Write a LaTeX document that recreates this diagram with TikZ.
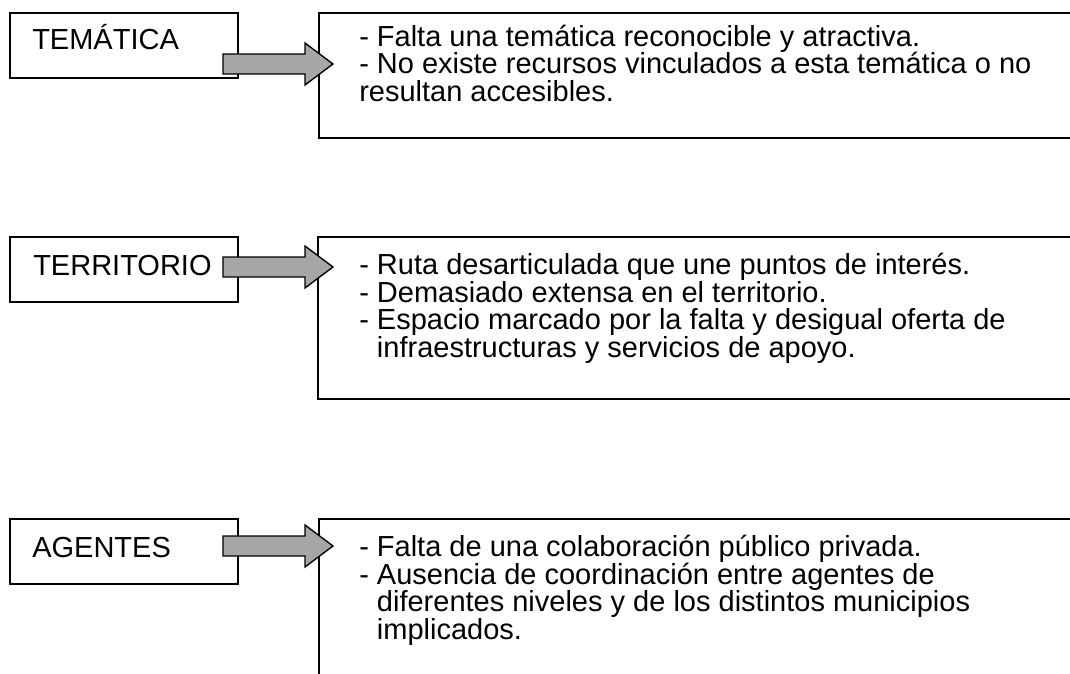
\documentclass[tikz,border=0pt]{standalone}
\usepackage{fontspec}
\setmainfont{Liberation Sans}
\usetikzlibrary{positioning}

\tikzset{
  caja/.style={draw=black, line width=1pt},
  etiqueta/.style={anchor=base west, inner sep=0pt, font=\fontsize{21.75pt}{20.6pt}\selectfont},
  lista/.style={anchor=base west, inner sep=0pt, align=left, font=\fontsize{21.75pt}{20.6pt}\selectfont},
  flechagris/.style={draw=black, line width=1pt, fill=black!35, line join=miter},
}

\begin{document}
\begin{tikzpicture}[x=0.75pt, y=-0.75pt]
\useasboundingbox (0,0) rectangle (1070,674);
\clip (0,0) rectangle (1070,674);

% tematica (base = last line)
\draw[caja] (10,13) rectangle (238,78);
\node[etiqueta] (tematica) at (32,50) {TEMÁTICA};
\draw[caja] (319,13) rectangle (1090,138);
\node[lista] (tematica-txt) at (359,101) {- Falta una temática reconocible y atractiva.\\- No existe recursos vinculados a esta temática o no\\resultan accesibles.};
\coordinate (t-ini) at (223,64);
\coordinate (t-fin) at (333,64);
\draw[flechagris] (t-ini) ++(0,-10) -- ++(82,0) -- ++(0,-11) -- (t-fin) -- ++(-28,21) -- ++(0,-11) -- ++(-82,0) -- cycle;

% territorio
\draw[caja] (10,237) rectangle (238,302);
\node[etiqueta] (territorio) at (33,275) {TERRITORIO};
\draw[caja] (318,237) rectangle (1090,399);
\node[lista] (territorio-txt) at (359,357) {- Ruta desarticulada que une puntos de interés.\\- Demasiado extensa en el territorio.\\- Espacio marcado por la falta y desigual oferta de\\\hphantom{- }infraestructuras y servicios de apoyo.};
\coordinate (r-ini) at (223,267);
\coordinate (r-fin) at (333,267);
\draw[flechagris] (r-ini) ++(0,-10) -- ++(82,0) -- ++(0,-11) -- (r-fin) -- ++(-28,21) -- ++(0,-11) -- ++(-82,0) -- cycle;

% agentes
\draw[caja] (10,519) rectangle (238,584);
\node[etiqueta] (agentes) at (32,557) {AGENTES};
\draw[caja] (319,519) rectangle (1090,700);
\node[lista] (agentes-txt) at (359,639) {- Falta de una colaboración público privada.\\- Ausencia de coordinación entre agentes de\\\hphantom{- }diferentes niveles y de los distintos municipios\\\hphantom{- }implicados.};
\coordinate (a-ini) at (223,546);
\coordinate (a-fin) at (333,546);
\draw[flechagris] (a-ini) ++(0,-10) -- ++(82,0) -- ++(0,-11) -- (a-fin) -- ++(-28,21) -- ++(0,-11) -- ++(-82,0) -- cycle;
\end{tikzpicture}
\end{document}
